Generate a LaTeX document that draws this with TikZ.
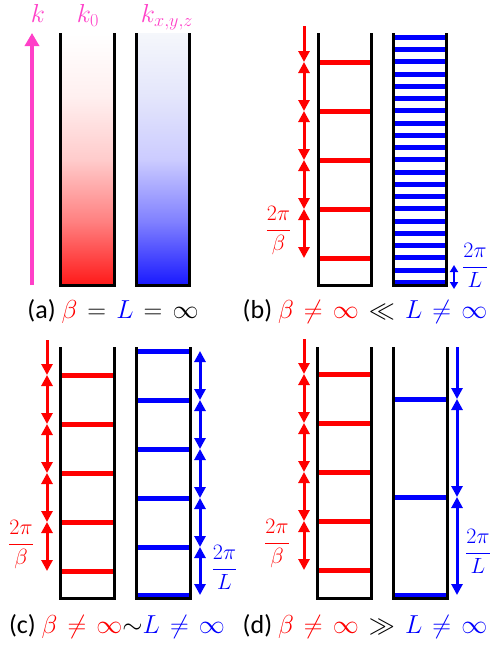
\RequirePackage{fix-cm}
\documentclass[tikz,border=0pt]{standalone}
\usepackage{amsmath}
\usepackage[no-math]{fontspec}
\setmainfont{Carlito}
\usetikzlibrary{arrows.meta}
\definecolor{kpink}{RGB}{255,64,200}
\definecolor{rr}{RGB}{255,0,0}
\definecolor{bb}{RGB}{0,0,255}
\definecolor{rbot}{RGB}{255,25,25}
\definecolor{bbot}{RGB}{25,25,255}
\definecolor{btop}{RGB}{245,247,251}
\pgfdeclareverticalshading{redgrad}{100bp}{color(0bp)=(rbot); color(25bp)=(rbot); color(37.5bp)=(rr!50!white); color(50bp)=(rr!20!white); color(62.5bp)=(rr!6!white); color(75bp)=(white); color(100bp)=(white)}
\pgfdeclareverticalshading{bluegrad}{100bp}{color(0bp)=(bbot); color(25bp)=(bbot); color(37.5bp)=(bb!50!white); color(50bp)=(bb!20!white); color(62.5bp)=(bb!7!btop); color(75bp)=(btop); color(100bp)=(btop)}
\newcommand{\widerel}{\thickmuskip=7mu\relax}
\tikzset{
  >={Triangle[width=11pt,length=11pt]},
  wall/.style={line width=3pt,draw=black,line join=miter},
  rline/.style={line width=5pt,draw=rr},
  bline/.style={line width=5pt,draw=bb},
  rarr/.style={line width=3pt,color=rr},
  barr/.style={line width=3pt,color=bb},
  klab/.style={text=kpink,inner sep=0pt,anchor=base,font=\fontsize{26}{30}\selectfont},
  captxt/.style={inner sep=0pt,anchor=base,font=\fontsize{26}{30}\selectfont},
  rfrac/.style={text=rr,inner sep=0pt,anchor=base,font=\fontsize{22}{26}\selectfont},
  bfrac/.style={text=bb,inner sep=0pt,anchor=base,font=\fontsize{22}{26}\selectfont},
}
\begin{document}
\begin{tikzpicture}[x=1pt,y=1pt]
\useasboundingbox (0,0) rectangle (490,-645);

% ---------------- panel (a)
\coordinate (ka0) at (32,-285);
\coordinate (ka1) at (32,-33);
\draw[line width=3.5pt,color=kpink,-{Triangle[width=14pt,length=13pt]}] (ka0) -- (ka1);
\shade[shading=redgrad] (61.5,-33) rectangle (112.5,-285);
\shade[shading=bluegrad] (137.5,-33) rectangle (187.5,-285);
\draw[wall] (60,-33) -- (60,-285) -- (114,-285) -- (114,-33);
\draw[wall] (136,-33) -- (136,-285) -- (189,-285) -- (189,-33);
\node[klab] (kA) at (38,-23) {$k$};
\node[klab] (kB) at (88,-23) {$k_0$};
\node[klab] (kC) at (167,-23) {$k_{x,y,z}$};
\node[captxt] (capa) at (113,-318) {(a) $\widerel{\color{rr}\beta} = {\color{bb}L} = \infty$};

% ---------------- panel (b)
\foreach \y in {62,111,160,209,258} \draw[rline] (318,-\y) -- (371,-\y);
\foreach \n in {0,...,20} \draw[bline] (393,{-(37.3+12.25*\n)}) -- (446,{-(37.3+12.25*\n)});
\draw[wall] (318,-33) -- (318,-285) -- (371,-285) -- (371,-33);
\draw[wall] (393,-33) -- (393,-285) -- (446,-285) -- (446,-33);
\foreach \i/\y in {0/26,1/62,2/111,3/160,4/209,5/258} \coordinate (bR\i) at (304,-\y);
\draw[rarr,->] (bR0) -- (bR1);
\foreach \a/\b in {1/2,2/3,3/4,4/5} \draw[rarr,<->] (bR\a) -- (bR\b);
\coordinate (bs0) at (454,-265);
\coordinate (bs1) at (454,-289);
\draw[line width=2pt,color=bb,{Triangle[width=8pt,length=7pt]}-{Triangle[width=8pt,length=7pt]}] (bs0) -- (bs1);
\node[rfrac] (fb1) at (278.5,-235.5) {$\dfrac{2\pi}{\beta}$};
\node[bfrac] (fb2) at (475,-272.5) {$\dfrac{2\pi}{L}$};
\node[captxt] (capb) at (365,-318) {(b) $\widerel{\color{rr}\beta \neq \infty} \ll {\color{bb}L \neq \infty}$};

% ---------------- panel (c)
\foreach \y in {375,424,473,522,571} \draw[rline] (60,-\y) -- (114,-\y);
\foreach \y in {351,400,449,498,547,595} \draw[bline] (136,-\y) -- (190,-\y);
\draw[wall] (60,-347) -- (60,-598) -- (114,-598) -- (114,-347);
\draw[wall] (136,-347) -- (136,-598) -- (190,-598) -- (190,-347);
\foreach \i/\y in {0/340,1/375,2/424,3/473,4/522,5/571} \coordinate (cR\i) at (47,-\y);
\draw[rarr,->] (cR0) -- (cR1);
\foreach \a/\b in {1/2,2/3,3/4,4/5} \draw[rarr,<->] (cR\a) -- (cR\b);
\foreach \i/\y in {0/351,1/400,2/449,3/498,4/547,5/595} \coordinate (cB\i) at (200,-\y);
\foreach \a/\b in {0/1,1/2,2/3,3/4,4/5} \draw[barr,<->] (cB\a) -- (cB\b);
\node[rfrac] (fc1) at (21,-549.5) {$\dfrac{2\pi}{\beta}$};
\node[bfrac] (fc2) at (224.5,-574.5) {$\dfrac{2\pi}{L}$};
\node[captxt] (capc) at (117,-633) {(c) $\widerel{\color{rr}\beta \neq \infty}{\sim}{\color{bb}L \neq \infty}$};

% ---------------- panel (d)
\foreach \y in {374,423,472,521,570} \draw[rline] (317,-\y) -- (371,-\y);
\foreach \y in {399,497,595} \draw[bline] (393,-\y) -- (447,-\y);
\draw[wall] (317,-347) -- (317,-598) -- (371,-598) -- (371,-347);
\draw[wall] (393,-347) -- (393,-598) -- (447,-598) -- (447,-347);
\foreach \i/\y in {0/339,1/374,2/423,3/472,4/521,5/570} \coordinate (dR\i) at (304,-\y);
\draw[rarr,->] (dR0) -- (dR1);
\foreach \a/\b in {1/2,2/3,3/4,4/5} \draw[rarr,<->] (dR\a) -- (dR\b);
\foreach \i/\y in {0/347,1/399,2/497,3/595} \coordinate (dB\i) at (457,-\y);
\draw[barr,->] (dB0) -- (dB1);
\foreach \a/\b in {1/2,2/3} \draw[barr,<->] (dB\a) -- (dB\b);
\node[rfrac] (fd1) at (277,-548.5) {$\dfrac{2\pi}{\beta}$};
\node[bfrac] (fd2) at (478,-558.5) {$\dfrac{2\pi}{L}$};
\node[captxt] (capd) at (365,-633) {(d) $\widerel{\color{rr}\beta \neq \infty} \gg {\color{bb}L \neq \infty}$};
\end{tikzpicture}
\end{document}
